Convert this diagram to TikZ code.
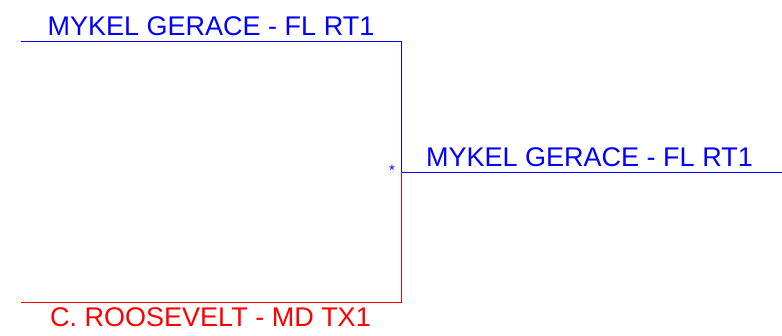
\documentclass[tikz,border=0pt]{standalone}
\usepackage{fontspec}
\setmainfont{Liberation Sans}
\usetikzlibrary{positioning}
\definecolor{wireblue}{rgb}{0, 0, 1}
\definecolor{wirered}{rgb}{1, 0, 0}

\begin{document}
\begin{tikzpicture}[line cap=butt,line join=miter, x=1pt,y=-1pt]
	\tikzset{wire/.style={line width=0.9pt}, lbl/.style={font=\fontsize{27}{30}\selectfont, inner sep=0pt, anchor=base}}
	\useasboundingbox (0,0) rectangle (782,335);
	% corner points of the bracket
	\coordinate (topL) at (21,41.5);
	\coordinate (topR) at (401.5,41.5);
	\coordinate (mid) at (401.5,172.3);
	\coordinate (out) at (782,172.3);
	\coordinate (botR) at (401.5,302.5);
	\coordinate (botL) at (21,302.5);
	% father side
	\draw [wire,color=wireblue] (topL)-- (topR)-- (mid)-- (out);
	% mother side
	\draw [wire,color=wirered] (mid)-- (botR)-- (botL);
	\node[lbl,color=wireblue] (sire) at (211,35) {MYKEL GERACE - FL RT1};
	\node[lbl,color=wireblue] (self) at (589.5,166) {MYKEL GERACE - FL RT1};
	\node[lbl,color=wirered] (dam) at (210.5,326) {C. ROOSEVELT - MD TX1};
	\node[color=wireblue, font=\fontsize{15}{16}\selectfont, inner sep=0pt] (star) at (392,170) {*};
\end{tikzpicture}
\end{document}
